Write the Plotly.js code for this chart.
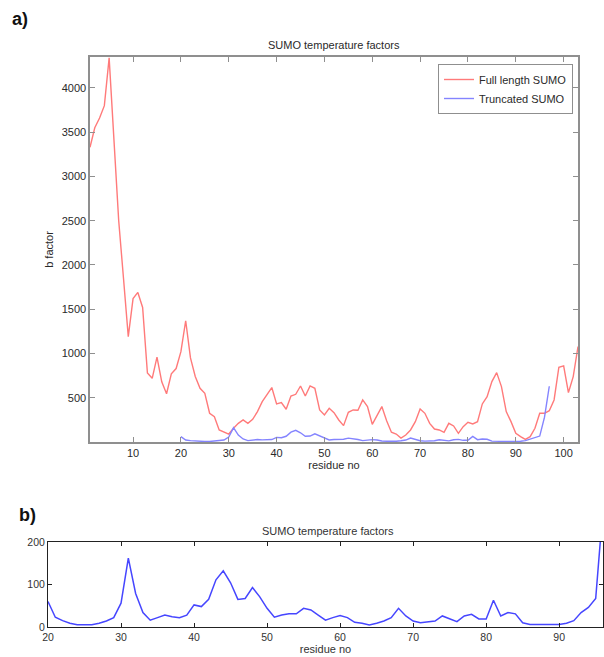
<!DOCTYPE html>
<html>
<head>
<meta charset="utf-8">
<script src="https://cdn.plot.ly/plotly-3.0.1.min.js"></script>
<style>
  html, body { margin: 0; padding: 0; background: #fff; }
  #chart { width: 604px; height: 657px; }
</style>
</head>
<body>
<div id="chart"></div>
<script>
// ---- Data ----
const residuesFull = [1,2,3,4,5,6,7,8,9,10,11,12,13,14,15,16,17,18,19,20,
  21,22,23,24,25,26,27,28,29,30,31,32,33,34,35,36,37,38,39,40,
  41,42,43,44,45,46,47,48,49,50,51,52,53,54,55,56,57,58,59,60,
  61,62,63,64,65,66,67,68,69,70,71,72,73,74,75,76,77,78,79,80,
  81,82,83,84,85,86,87,88,89,90,91,92,93,94,95,96,97,98,99,100,
  101,102,103];
const bFactorFull = [3330,3550,3660,3800,4340,3450,2500,1850,1190,1620,
  1690,1520,780,720,960,680,545,770,830,1020,
  1370,950,740,607,550,325,286,136,117,90,
  155,211,249,211,256,343,456,543,615,430,
  445,370,520,539,633,520,633,607,362,305,
  381,332,249,185,336,362,358,475,400,200,
  298,400,241,110,90,45,79,136,230,373,
  324,211,147,136,109,211,181,98,173,222,
  204,230,430,513,683,784,626,343,230,98,
  60,30,60,155,324,324,354,475,845,860,
  558,739,1078];

const residuesTrunc = [20,21,22,23,24,25,26,27,28,29,30,31,32,33,34,35,36,37,38,39,
  40,41,42,43,44,45,46,47,48,49,50,51,52,53,54,55,56,57,58,59,
  60,61,62,63,64,65,66,67,68,69,70,71,72,73,74,75,76,77,78,79,
  80,81,82,83,84,85,86,87,88,89,90,91,92,93,94,95,96,97];
const bFactorTrunc = [60,23,15,9,5.5,5.5,5.5,9,14,22,
  56,162,79,34,16,22,28,24,22,28,
  52,48,65,111,132,104,65,67,93,71,
  44,23,28,31,31,44,40,28,16,22,
  27,22,11,9,5,9,14,22,44,26,
  14,10,12.5,14,26,20,12.5,26,30,19,
  19,63,26,34,31,10,6,6,6,6,
  6,9,15,34,46,67,280,630];

const topXTicks = [10,20,30,40,50,60,70,80,90,100];
const topYTicks = [500,1000,1500,2000,2500,3000,3500,4000];
const botXTicks = [20,30,40,50,60,70,80,90];
const botYTicks = [0,100,200];

const titleText = 'SUMO temperature factors';
const seriesNames = ['Full length SUMO', 'Truncated SUMO'];

// ---- Layout geometry (pixels -> paper fractions) ----
const W = 604, H = 657;
const px = v => v / W;
const py = v => 1 - v / H;

const FONT = 'Liberation Sans, Arial, sans-serif';

const traces = [
  { x: residuesFull, y: bFactorFull, type: 'scatter', mode: 'lines',
    name: seriesNames[0], line: { color: '#ff7a7a', width: 1.4 },
    xaxis: 'x', yaxis: 'y' },
  { x: residuesTrunc, y: bFactorTrunc, type: 'scatter', mode: 'lines',
    name: seriesNames[1], line: { color: '#8484ff', width: 1.4 },
    xaxis: 'x', yaxis: 'y' },
  { x: residuesTrunc, y: bFactorTrunc, type: 'scatter', mode: 'lines',
    name: seriesNames[1], showlegend: false, line: { color: '#4646ff', width: 1.5 },
    xaxis: 'x2', yaxis: 'y2' }
];

const topAxisCommon = {
  showgrid: false, zeroline: false, showline: true, mirror: 'ticks',
  linecolor: '#8f8f8f', linewidth: 1.6, ticks: 'inside', ticklen: 5,
  tickcolor: '#8f8f8f', tickwidth: 1,
  tickfont: { family: FONT, size: 11, color: '#2a2a2a' }
};
const botAxisCommon = {
  showgrid: false, zeroline: false, showline: true, mirror: 'ticks',
  linecolor: '#222', linewidth: 1, ticks: 'inside', ticklen: 4,
  tickcolor: '#222', tickwidth: 1,
  tickfont: { family: FONT, size: 10.5, color: '#333' }
};

const layout = {
  width: W, height: H,
  margin: { l: 0, r: 0, t: 0, b: 0 },
  paper_bgcolor: '#fff', plot_bgcolor: '#fff',
  showlegend: true,
  font: { family: FONT, color: '#222' },
  xaxis: Object.assign({}, topAxisCommon, {
    domain: [px(90), px(578)], range: [1, 103],
    tickmode: 'array', tickvals: topXTicks, ticktext: topXTicks.map(String),
    anchor: 'y',
    title: { text: 'residue no', font: { family: FONT, size: 11, color: '#2a2a2a' }, standoff: 3 }
  }),
  yaxis: Object.assign({}, topAxisCommon, {
    domain: [py(442), py(57)], range: [0, 4350],
    tickmode: 'array', tickvals: topYTicks, ticktext: topYTicks.map(String),
    anchor: 'x',
    title: { text: 'b factor', font: { family: FONT, size: 11, color: '#2a2a2a' }, standoff: 6 }
  }),
  xaxis2: Object.assign({}, botAxisCommon, {
    domain: [px(48), px(603)], range: [20, 96],
    tickmode: 'array', tickvals: botXTicks, ticktext: botXTicks.map(String),
    anchor: 'y2',
    title: { text: 'residue no', font: { family: FONT, size: 11, color: '#333' }, standoff: 3 }
  }),
  yaxis2: Object.assign({}, botAxisCommon, {
    domain: [py(627), py(542)], range: [0, 200],
    tickmode: 'array', tickvals: botYTicks, ticktext: botYTicks.map(String),
    anchor: 'x2'
  }),
  legend: {
    x: px(573), xanchor: 'right', y: py(64), yanchor: 'top',
    bgcolor: '#fff', bordercolor: '#8f8f8f', borderwidth: 1,
    font: { family: FONT, size: 11, color: '#2a2a2a' },
    tracegroupgap: 0, itemwidth: 30
  },
  annotations: [
    { text: titleText, xref: 'paper', yref: 'paper', x: px(334), y: py(45),
      xanchor: 'center', yanchor: 'middle', showarrow: false,
      font: { family: FONT, size: 11, color: '#2a2a2a' } },
    { text: titleText, xref: 'paper', yref: 'paper', x: px(328), y: py(531),
      xanchor: 'center', yanchor: 'middle', showarrow: false,
      font: { family: FONT, size: 11, color: '#333' } },
    { text: '<b>a)</b>', xref: 'paper', yref: 'paper', x: px(10), y: py(19),
      xanchor: 'left', yanchor: 'middle', showarrow: false,
      font: { family: FONT, size: 18, color: '#111' } },
    { text: '<b>b)</b>', xref: 'paper', yref: 'paper', x: px(17), y: py(515),
      xanchor: 'left', yanchor: 'middle', showarrow: false,
      font: { family: FONT, size: 18, color: '#111' } }
  ]
};

Plotly.newPlot('chart', traces, layout, { displayModeBar: false, staticPlot: true });
</script>
</body>
</html>
